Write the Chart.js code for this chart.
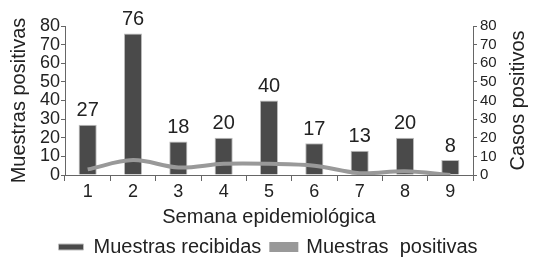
<!DOCTYPE html>
<html>
<head>
<meta charset="utf-8">
<script src="https://cdn.jsdelivr.net/npm/chart.js@4"></script>
<style>
  html, body { margin: 0; padding: 0; background: #fff; }
  #wrap { width: 536px; height: 262px; }
</style>
</head>
<body>
<div id="wrap"><canvas id="chart" width="536" height="262"></canvas></div>
<script>
// Data
const weeks = ['1', '2', '3', '4', '5', '6', '7', '8', '9'];
const muestrasRecibidas = [27, 76, 18, 20, 40, 17, 13, 20, 8];
const muestrasPositivas = [3, 8, 4, 6, 6, 5, 1, 2, 0];
const yTicks = [0, 10, 20, 30, 40, 50, 60, 70, 80];

const FONT = 'Liberation Sans, Arial, sans-serif';
const TEXT = '#222';
const AXIS = '#666';

// values above the bars, plus the right-hand title (read bottom to top like the left one)
const extras = {
    id: 'extras',
    afterDatasetsDraw(chart) {
        const ctx = chart.ctx;
        const meta = chart.getDatasetMeta(0);
        ctx.save();
        ctx.font = '20px ' + FONT;
        ctx.fillStyle = TEXT;
        ctx.textAlign = 'center';
        ctx.textBaseline = 'bottom';
        meta.data.forEach((bar, i) => {
            ctx.fillText(muestrasRecibidas[i], bar.x, bar.y - 4);
        });

        const area = chart.chartArea;
        ctx.translate(518, (area.top + area.bottom) / 2);
        ctx.rotate(-Math.PI / 2);
        ctx.textBaseline = 'middle';
        ctx.fillText('Casos positivos', 0, 0);
        ctx.restore();
    }
};

new Chart(document.getElementById('chart'), {
    type: 'bar',
    data: {
        labels: weeks,
        datasets: [
            {
                label: 'Muestras recibidas',
                data: muestrasRecibidas,
                backgroundColor: '#4a4a4a',
                borderColor: '#bdbdbd',
                borderWidth: 1,
                barPercentage: 0.4,
                categoryPercentage: 1,
                yAxisID: 'y',
                order: 2
            },
            {
                type: 'line',
                label: 'Muestras  positivas',
                data: muestrasPositivas,
                borderColor: '#999',
                backgroundColor: '#999',
                borderWidth: 4,
                pointRadius: 0,
                tension: 0.35,
                yAxisID: 'y1',
                order: 1
            }
        ]
    },
    options: {
        responsive: false,
        animation: false,
        layout: { padding: { top: 26, bottom: -5 } },
        plugins: {
            tooltip: { enabled: false },
            legend: {
                position: 'bottom',
                labels: {
                    boxWidth: 25,
                    boxHeight: 6,
                    padding: 10,
                    color: TEXT,
                    font: { family: FONT, size: 20 },
                    sort: (a, b) => a.datasetIndex - b.datasetIndex
                }
            }
        },
        scales: {
            x: {
                grid: { drawOnChartArea: false, color: AXIS, tickLength: 6, offset: true },
                border: { color: AXIS, width: 1 },
                ticks: { color: TEXT, font: { family: FONT, size: 18 }, padding: 0, autoSkip: false, maxRotation: 0 },
                title: {
                    display: true,
                    text: 'Semana epidemiológica',
                    color: TEXT,
                    font: { family: FONT, size: 20 },
                    padding: { top: 0, bottom: -2 }
                },
                afterFit: axis => { axis.height = 52; }
            },
            y: {
                position: 'left',
                min: 0,
                max: 80,
                afterBuildTicks: axis => { axis.ticks = yTicks.map(v => ({ value: v })); },
                grid: { drawOnChartArea: false, color: AXIS, tickLength: 4 },
                border: { color: AXIS, width: 1 },
                ticks: { color: TEXT, font: { family: FONT, size: 18 }, padding: 1, autoSkip: false },
                title: {
                    display: true,
                    text: 'Muestras positivas',
                    color: TEXT,
                    font: { family: FONT, size: 20 },
                    padding: { top: 7, bottom: 0 }
                },
                afterFit: axis => { axis.width = 65; }
            },
            y1: {
                position: 'right',
                min: 0,
                max: 80,
                afterBuildTicks: axis => { axis.ticks = yTicks.map(v => ({ value: v })); },
                grid: { drawOnChartArea: false, color: AXIS, tickLength: 4 },
                border: { color: AXIS, width: 1 },
                ticks: { color: TEXT, font: { family: FONT, size: 15 }, padding: 3, autoSkip: false },
                afterFit: axis => { axis.width = 63; }
            }
        }
    },
    plugins: [extras]
});
</script>
</body>
</html>
